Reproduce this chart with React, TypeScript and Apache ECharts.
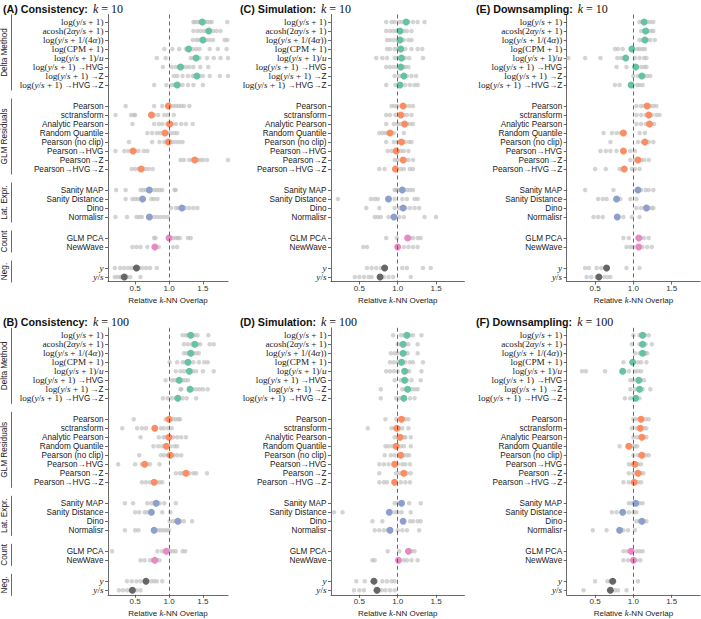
import React, { useEffect, useRef } from 'react';
import * as echarts from 'echarts';

// ---------------- data ----------------
const GROUPS = ['Delta Method', 'GLM Residuals', 'Lat. Expr.', 'Count', 'Neg.'];
const GROUP_SIZES = [8, 8, 4, 2, 2];
const GROUP_COLORS = ['#66c2a5', '#fc8d62', '#8da0cb', '#e78ac3', '#666666'];
const ROW_LABELS = [
  'log(y/s+1)', 'acosh(2αy/s+1)', 'log(y/s+1/(4α))', 'log(CPM+1)', 'log(y/s+1)/u',
  'log(y/s+1) →HVG', 'log(y/s+1) →Z', 'log(y/s+1) →HVG→Z',
  'Pearson', 'sctransform', 'Analytic Pearson', 'Random Quantile', 'Pearson (no clip)',
  'Pearson→HVG', 'Pearson→Z', 'Pearson→HVG→Z',
  'Sanity MAP', 'Sanity Distance', 'Dino', 'Normalisr',
  'GLM PCA', 'NewWave',
  'y', 'y/s',
];
const X_TICKS = [0.5, 1.0, 1.5];

const A_MEAN = [1.49, 1.585, 1.5, 1.29, 1.4, 1.17, 1.41, 1.12, 0.99, 0.74, 1.01, 0.94, 0.99, 0.47, 1.38, 0.59, 0.71, 0.61, 1.19, 0.71, 1.0, 0.79, 0.52, 0.34];
const A_PTS = [
  [1.36, 1.38, 1.42, 1.45, 1.5, 1.53, 1.56, 1.6, 1.63, 1.86],
  [1.36, 1.42, 1.47, 1.52, 1.57, 1.6, 1.65, 1.7, 1.76],
  [1.35, 1.4, 1.44, 1.48, 1.52, 1.55, 1.6, 1.65, 1.82, 1.86],
  [0.93, 1.05, 1.15, 1.25, 1.3, 1.35, 1.4, 1.45, 1.6, 1.72, 1.85],
  [0.82, 0.95, 1.32, 1.36, 1.4, 1.45, 1.56, 1.66, 1.76, 1.87],
  [0.91, 1.04, 1.1, 1.14, 1.2, 1.25, 1.3, 1.36, 1.46, 1.58],
  [1.07, 1.12, 1.2, 1.28, 1.35, 1.38, 1.45, 1.5, 1.6, 1.75, 1.87],
  [0.78, 0.96, 1.04, 1.08, 1.15, 1.2, 1.28, 1.36, 1.5],
  [0.36, 0.78, 0.9, 0.98, 1.06, 1.1, 1.14, 1.18, 1.22, 1.3],
  [0.21, 0.44, 0.48, 0.5, 0.78, 0.84, 0.93, 0.98, 1.07],
  [0.46, 0.78, 0.85, 0.9, 0.97, 1.05, 1.1, 1.18, 1.25, 1.35],
  [0.68, 0.75, 0.82, 0.87, 0.98, 1.03, 1.08, 1.12],
  [0.41, 0.75, 0.86, 0.93, 1.05, 1.1, 1.15, 1.2],
  [0.21, 0.34, 0.4, 0.45, 0.5, 0.55, 0.63, 0.68],
  [1.17, 1.22, 1.3, 1.35, 1.42, 1.46, 1.5, 1.56, 1.87],
  [0.45, 0.5, 0.55, 0.6, 0.65, 0.7, 0.76],
  [0.22, 0.36, 0.58, 0.62, 0.66, 0.78, 0.82, 0.86, 0.9, 1.08, 1.1],
  [0.36, 0.46, 0.5, 0.54, 0.74, 0.78, 0.83],
  [1.03, 1.1, 1.14, 1.2, 1.24, 1.3, 1.36, 1.42],
  [0.21, 0.38, 0.52, 0.56, 0.6, 0.78, 0.83, 0.88, 0.93, 0.98],
  [0.78, 0.8, 1.06, 1.1, 1.13, 1.16, 1.28, 1.32],
  [0.46, 0.52, 0.58, 0.68, 0.85, 1.06, 1.12],
  [0.2, 0.28, 0.34, 0.4, 0.45, 0.49, 0.56, 0.6, 0.66, 0.72, 0.82],
  [0.2, 0.24, 0.28, 0.3, 0.38, 0.43, 0.58],
];

const B_MEAN = [1.32, 1.38, 1.32, 1.28, 1.3, 1.15, 1.31, 1.13, 1.0, 0.79, 1.0, 0.96, 1.02, 0.64, 1.25, 0.78, 0.81, 0.74, 1.13, 0.78, 0.96, 0.79, 0.66, 0.46];
const B_PTS = [
  [1.2, 1.25, 1.28, 1.35, 1.38, 1.42, 1.58],
  [1.22, 1.28, 1.34, 1.42, 1.46, 1.6, 1.66],
  [1.22, 1.26, 1.3, 1.36, 1.4, 1.44],
  [1.01, 1.12, 1.2, 1.24, 1.3, 1.36, 1.44, 1.52, 1.57],
  [1.1, 1.17, 1.22, 1.27, 1.35, 1.4, 1.5, 1.66],
  [0.95, 1.04, 1.08, 1.12, 1.2, 1.24, 1.28],
  [1.17, 1.18, 1.35, 1.4, 1.45, 1.5, 1.57],
  [0.91, 0.98, 1.04, 1.1, 1.2, 1.26, 1.4],
  [0.48, 0.95, 1.06, 1.1, 1.14, 1.16],
  [0.31, 0.53, 0.6, 0.66, 0.88, 0.92, 0.98, 1.04],
  [0.58, 0.85, 0.92, 0.95, 1.06, 1.12, 1.18, 1.25],
  [0.77, 0.84, 0.9, 1.02, 1.08, 1.12],
  [0.56, 0.88, 0.93, 0.98, 1.07, 1.12, 1.18],
  [0.25, 0.5, 0.6, 0.63, 0.68, 0.72, 0.86],
  [1.1, 1.16, 1.2, 1.3, 1.36, 1.4, 1.56],
  [0.6, 0.66, 0.72, 0.82, 0.86, 0.9],
  [0.35, 0.47, 0.68, 0.74, 0.8, 0.86, 0.93, 1.1],
  [0.5, 0.56, 0.64, 0.68, 0.9, 1.02],
  [1.01, 1.06, 1.1, 1.17, 1.22, 1.34],
  [0.35, 0.5, 0.55, 0.84, 0.88, 0.92, 0.96, 1.0],
  [0.16, 0.83, 0.9, 1.02, 1.06, 1.1, 1.2, 1.24],
  [0.58, 0.64, 0.72, 0.76, 0.82, 0.86],
  [0.38, 0.45, 0.52, 0.58, 0.74, 0.78, 0.82, 0.9],
  [0.26, 0.32, 0.38, 0.43, 0.52, 0.58],
];

const C_MEAN = [1.11, 1.03, 1.03, 1.04, 1.05, 1.04, 1.08, 1.03, 1.07, 1.04, 1.09, 0.9, 1.05, 0.98, 1.07, 0.97, 1.06, 0.88, 1.07, 0.95, 1.13, 1.0, 0.83, 0.77];
const C_PTS = [
  [0.85, 0.92, 0.96, 1.02, 1.06, 1.14, 1.2, 1.26, 1.35],
  [0.85, 0.9, 0.94, 0.98, 1.08, 1.12, 1.18],
  [0.86, 0.9, 0.95, 1.0, 1.08, 1.14, 1.18],
  [0.86, 0.9, 0.96, 1.0, 1.1, 1.18, 1.26, 1.32],
  [0.72, 0.8, 0.86, 0.96, 1.0, 1.1, 1.15, 1.33],
  [0.85, 0.9, 0.95, 1.0, 1.08, 1.1, 1.14],
  [0.96, 1.02, 1.12, 1.18, 1.24],
  [0.85, 0.97, 1.1, 1.16, 1.22, 1.26],
  [0.92, 0.96, 1.0, 1.1, 1.15, 1.2],
  [0.85, 0.9, 0.97, 1.08, 1.12, 1.18],
  [0.85, 0.95, 1.0, 1.04, 1.12, 1.16, 1.2],
  [0.76, 0.8, 0.84, 0.87, 0.95, 1.08],
  [0.85, 0.95, 1.0, 1.1, 1.15, 1.18],
  [0.87, 0.92, 1.0, 1.04, 1.08, 1.14],
  [0.96, 1.0, 1.1, 1.14, 1.2],
  [0.76, 0.83, 1.04, 1.08, 1.16, 1.2],
  [0.96, 0.98, 1.0, 1.12, 1.16, 1.2],
  [0.22, 0.65, 0.7, 0.74, 0.96, 1.06, 1.12, 1.22, 1.26],
  [0.59, 0.76, 0.96, 1.02, 1.1, 1.16, 1.22, 1.28],
  [0.7, 0.74, 0.78, 0.88, 0.94, 1.02, 1.08, 1.35, 1.5],
  [0.85, 0.99, 1.16, 1.2, 1.26, 1.3],
  [0.55, 0.6, 1.08, 1.14, 1.2, 1.26],
  [0.6, 0.66, 0.72, 0.78, 1.06, 1.12, 1.33, 1.43],
  [0.44, 0.5, 0.56, 0.62, 0.66, 0.82, 0.88, 0.94, 1.17],
];

const D_MEAN = [1.12, 1.07, 1.07, 1.05, 1.09, 1.09, 1.13, 1.08, 1.05, 0.99, 1.03, 0.98, 1.04, 0.96, 1.08, 0.96, 1.05, 0.89, 1.07, 0.9, 1.14, 1.01, 0.69, 0.73];
const D_PTS = [
  [0.94, 1.04, 1.08, 1.16, 1.2, 1.31],
  [1.0, 1.04, 1.1, 1.14, 1.26],
  [0.91, 0.96, 1.0, 1.1, 1.13, 1.26],
  [0.9, 0.95, 1.0, 1.1, 1.16, 1.2, 1.33],
  [0.85, 0.9, 0.95, 1.0, 1.12, 1.15, 1.31],
  [0.96, 1.04, 1.12, 1.18, 1.3],
  [0.78, 1.06, 1.1, 1.18, 1.22, 1.26],
  [0.78, 0.98, 1.02, 1.16, 1.22],
  [0.84, 0.98, 1.02, 1.1, 1.14],
  [0.61, 0.92, 0.96, 1.02, 1.06, 1.14],
  [0.96, 1.0, 1.08, 1.1, 1.17],
  [0.84, 0.88, 0.93, 1.04, 1.08, 1.17],
  [0.83, 0.91, 0.96, 1.08, 1.12, 1.15],
  [0.76, 0.82, 0.88, 1.0, 1.06, 1.1, 1.16],
  [0.76, 0.98, 1.03, 1.12, 1.17],
  [0.76, 0.82, 0.86, 1.04, 1.1, 1.16],
  [0.96, 1.0, 1.04, 1.15, 1.3],
  [0.17, 0.28, 0.96, 1.0, 1.05, 1.17],
  [0.67, 0.8, 1.16, 1.2, 1.26, 1.3],
  [0.7, 0.76, 0.82, 0.87, 1.0, 1.06, 1.12, 1.28],
  [0.87, 1.02, 1.18, 1.22],
  [0.67, 0.7, 1.08, 1.12, 1.18, 1.26],
  [0.46, 0.57, 0.8, 0.86, 0.92, 0.96],
  [0.43, 0.5, 0.56, 0.79, 0.84, 0.9, 0.96],
];

const E_MEAN = [1.14, 1.16, 1.15, 0.98, 0.9, 1.03, 1.11, 0.97, 1.18, 1.2, 1.21, 0.87, 1.15, 0.87, 1.06, 0.88, 1.06, 0.78, 1.17, 0.79, 1.07, 1.07, 0.65, 0.55];
const E_PTS = [
  [1.08, 1.12, 1.18, 1.22, 1.26],
  [1.1, 1.14, 1.2, 1.24, 1.26],
  [1.08, 1.12, 1.18, 1.22, 1.28],
  [0.76, 0.8, 0.86, 1.05, 1.08, 1.12, 1.15],
  [0.15, 0.37, 0.57, 0.79, 0.84, 0.88, 1.02, 1.08, 1.14, 1.17],
  [0.78, 0.91, 1.1, 1.14, 1.17],
  [1.0, 1.06, 1.14, 1.18, 1.22],
  [0.76, 0.82, 1.05, 1.08, 1.12],
  [1.04, 1.1, 1.14, 1.22, 1.26, 1.3],
  [1.04, 1.1, 1.16, 1.24, 1.3, 1.34],
  [1.04, 1.1, 1.16, 1.24, 1.27],
  [0.61, 0.72, 0.78, 0.83, 1.08, 1.15],
  [0.7, 1.06, 1.12, 1.2, 1.26],
  [0.57, 0.64, 0.7, 0.78, 0.96, 1.02],
  [0.96, 1.02, 1.1, 1.14, 1.2],
  [0.5, 0.64, 0.82, 0.86, 0.98, 1.02, 1.08],
  [0.37, 0.74, 1.04, 1.1, 1.16, 1.2, 1.26],
  [0.54, 0.6, 0.65, 0.83, 0.96, 1.04],
  [1.04, 1.1, 1.2, 1.24, 1.26],
  [0.48, 0.54, 0.6, 0.87, 0.98, 1.08],
  [0.87, 0.94, 1.1, 1.14, 1.2],
  [0.91, 0.96, 1.0, 1.12, 1.18, 1.24],
  [0.37, 0.42, 0.52, 0.58, 0.91, 1.08],
  [0.39, 0.45, 0.52, 0.62, 0.66, 0.7],
];

const F_MEAN = [1.12, 1.12, 1.12, 0.99, 0.86, 1.07, 1.08, 1.03, 1.1, 1.09, 1.11, 0.94, 1.11, 1.02, 1.06, 1.01, 1.03, 0.86, 1.11, 0.82, 0.97, 1.0, 0.73, 0.7];
const F_PTS = [
  [1.0, 1.08, 1.15, 1.2],
  [0.98, 1.08, 1.16, 1.24],
  [1.02, 1.08, 1.16, 1.18],
  [0.87, 1.06, 1.1, 1.17],
  [0.33, 0.38, 0.63, 0.94, 1.02, 1.06, 1.1],
  [0.96, 1.0, 1.1, 1.14],
  [0.96, 1.02, 1.12, 1.22],
  [0.89, 0.96, 1.02, 1.08],
  [1.0, 1.04, 1.16, 1.2],
  [0.98, 1.04, 1.14, 1.17],
  [1.0, 1.05, 1.14, 1.17],
  [0.82, 0.98, 1.02, 1.05],
  [1.0, 1.06, 1.16, 1.2],
  [0.94, 0.98, 1.06, 1.1],
  [0.94, 1.0, 1.1, 1.13],
  [0.87, 0.94, 1.06, 1.1],
  [0.94, 0.98, 1.08, 1.12],
  [0.72, 0.78, 0.94, 1.0, 1.04],
  [1.04, 1.08, 1.14, 1.17],
  [0.47, 0.65, 0.87, 0.93, 1.02],
  [0.87, 0.92, 1.04, 1.08, 1.12],
  [0.87, 0.93, 1.04, 1.09],
  [0.5, 0.66, 0.7, 1.06],
  [0.35, 0.76, 0.8, 0.91],
];

const PANELS = [
  { id: 'A', name: 'Consistency', k: '10', mean: A_MEAN, pts: A_PTS, col: 0, row: 0 },
  { id: 'B', name: 'Consistency', k: '100', mean: B_MEAN, pts: B_PTS, col: 0, row: 1 },
  { id: 'C', name: 'Simulation', k: '10', mean: C_MEAN, pts: C_PTS, col: 1, row: 0 },
  { id: 'D', name: 'Simulation', k: '100', mean: D_MEAN, pts: D_PTS, col: 1, row: 1 },
  { id: 'E', name: 'Downsampling', k: '10', mean: E_MEAN, pts: E_PTS, col: 2, row: 0 },
  { id: 'F', name: 'Downsampling', k: '100', mean: F_MEAN, pts: F_PTS, col: 2, row: 1 },
];

// ---------------- layout ----------------
const SANS = '"Liberation Sans", Arial, Helvetica, sans-serif';
const SERIF = '"Liberation Serif", "DejaVu Serif", serif';
const SLOT = 3;
const PAD_TOP = 2;
const STEP = 3;
const GAP = 7;
const PAD_BOTTOM = 1;

const COLS = [
  { left: 108, width: 120, min: 0.1, max: 1.87, titleX: 3 },
  { left: 331, width: 133.4, min: 0.13, max: 1.87, titleX: 240 },
  { left: 566.7, width: 133.4, min: 0.13, max: 1.87, titleX: 476 },
];
const ROWS_Y = [
  { top: 14.5, titleY: 0 },
  { top: 327.8, titleY: 313.3 },
];

const LOG = '{r|log(}{i|y}{r|/}{i|s}{r| + 1)}';
const RICH_LABELS: Record<string, string> = {
  'log(y/s+1)': LOG,
  'acosh(2αy/s+1)': '{r|acosh(2}{i|αy}{r|/}{i|s}{r| + 1)}',
  'log(y/s+1/(4α))': '{r|log(}{i|y}{r|/}{i|s}{r| + 1/(4}{i|α}{r|))}',
  'log(CPM+1)': '{r|log(CPM + 1)}',
  'log(y/s+1)/u': '{r|log(}{i|y}{r|/}{i|s}{r| + 1)/}{i|u}',
  'log(y/s+1) →HVG': LOG + ' →HVG',
  'log(y/s+1) →Z': LOG + ' →Z',
  'log(y/s+1) →HVG→Z': LOG + ' →HVG→Z',
  'y': '{i|y}',
  'y/s': '{i|y}{r|/}{i|s}',
};

function buildSlots() {
  const slots: number[] = [];
  let s = PAD_TOP;
  GROUP_SIZES.forEach((n, g) => {
    if (g > 0) s += GAP - STEP;
    for (let j = 0; j < n; j++) {
      slots.push(s);
      s += STEP;
    }
  });
  const total = slots[slots.length - 1] + 1 + PAD_BOTTOM;
  const cats: string[] = [];
  for (let i = 0; i < total; i++) cats.push('_' + i);
  slots.forEach((sl, r) => (cats[sl] = ROW_LABELS[r]));
  return { slots, cats, total };
}

export default function App() {
  const ref = useRef<HTMLDivElement>(null);
  useEffect(() => {
    document.body.style.margin = '0';
    if (!ref.current) return;
    const chart = echarts.init(ref.current, undefined, { renderer: 'svg' });
    const { slots, cats, total } = buildSlots();
    const gridH = total * SLOT;
    const isReal = (_i: number, v: string) => !String(v).startsWith('_');

    const grid: any[] = [];
    const xAxis: any[] = [];
    const yAxis: any[] = [];
    const series: any[] = [];
    const title: any[] = [];
    const graphic: any[] = [];

    PANELS.forEach((p, pi) => {
      const c = COLS[p.col];
      const r = ROWS_Y[p.row];
      grid.push({ left: c.left, top: r.top, width: c.width, height: gridH, containLabel: false });
      xAxis.push({
        type: 'value', gridIndex: pi, min: c.min, max: c.max,
        name: 'Relative {i|k}-NN Overlap', nameLocation: 'middle', nameGap: 14,
        nameTextStyle: {
          fontFamily: SANS, fontSize: 8, color: '#222',
          rich: { i: { fontFamily: SERIF, fontStyle: 'italic', fontSize: 8.8, color: '#222' } },
        },
        axisLine: { show: true, onZero: false, lineStyle: { color: '#444', width: 0.8 } },
        axisTick: { show: true, customValues: X_TICKS, length: 3, lineStyle: { color: '#444', width: 0.8 } },
        axisLabel: {
          customValues: X_TICKS, formatter: (v: number) => v.toFixed(1),
          fontFamily: SANS, fontSize: 8, color: '#333', margin: 3,
        },
        splitLine: { show: false },
      });
      yAxis.push({
        type: 'category', gridIndex: pi, data: cats, inverse: true, boundaryGap: true,
        axisLine: { show: true, lineStyle: { color: '#444', width: 0.8 } },
        axisTick: { show: true, alignWithLabel: true, interval: isReal, length: 3, lineStyle: { color: '#444', width: 0.8 } },
        axisLabel: {
          interval: isReal,
          formatter: (v: string) => (v.startsWith('_') ? '' : RICH_LABELS[v] || v),
          fontFamily: SANS, fontSize: 8.2, color: '#1a1a1a', margin: 4.5,
          rich: {
            r: { fontFamily: SERIF, fontSize: 9.2, color: '#1a1a1a' },
            i: { fontFamily: SERIF, fontStyle: 'italic', fontSize: 9.2, color: '#1a1a1a' },
          },
        },
        splitLine: { show: false },
      });

      const grey: number[][] = [];
      p.pts.forEach((arr, ri) => arr.forEach((v) => grey.push([v, slots[ri]])));
      series.push({
        type: 'scatter', xAxisIndex: pi, yAxisIndex: pi, data: grey, symbolSize: 4.5,
        itemStyle: { color: '#bdbdbd', opacity: 0.65 }, z: 2, silent: true,
        markLine: {
          silent: true, symbol: 'none', label: { show: false },
          lineStyle: { type: [4, 3], color: '#444', width: 0.8 },
          data: [{ xAxis: 1 }],
        },
      });
      let ri = 0;
      GROUP_SIZES.forEach((n, g) => {
        const d: number[][] = [];
        for (let j = 0; j < n; j++, ri++) d.push([p.mean[ri], slots[ri]]);
        series.push({
          type: 'scatter', xAxisIndex: pi, yAxisIndex: pi, data: d, symbolSize: 7,
          itemStyle: { color: GROUP_COLORS[g], opacity: 1 }, z: 3, silent: true,
        });
      });

      title.push({
        text: `{b|(${p.id}) ${p.name}:} {k|k}{m| = ${p.k}}`,
        left: c.titleX, top: r.titleY, padding: 0,
        textStyle: {
          fontWeight: 'normal',
          rich: {
            b: { fontFamily: SANS, fontWeight: 'bold', fontSize: 10.7, color: '#111' },
            k: { fontFamily: SERIF, fontStyle: 'italic', fontWeight: 'normal', fontSize: 12, color: '#111' },
            m: { fontFamily: SERIF, fontWeight: 'normal', fontSize: 12, color: '#111' },
          },
        },
      });

      if (p.col === 0) {
        let idx = 0;
        GROUP_SIZES.forEach((n, g) => {
          const y1 = r.top + (slots[idx] + 0.5) * SLOT - 7.5;
          const y2 = r.top + (slots[idx + n - 1] + 0.5) * SLOT + 5.5;
          idx += n;
          graphic.push({
            type: 'line', silent: true,
            shape: { x1: 11.5, y1, x2: 11.5, y2 },
            style: { stroke: '#444', lineWidth: 0.8 },
          });
          graphic.push({
            type: 'text', silent: true, x: 4.5, y: (y1 + y2) / 2, rotation: Math.PI / 2,
            style: {
              text: GROUPS[g], fontFamily: SANS, fontSize: 8.2, fill: '#222',
              align: 'center', verticalAlign: 'middle',
            },
          });
        });
      }
    });

    chart.setOption({ animation: false, backgroundColor: '#fff', grid, xAxis, yAxis, series, title, graphic });
    return () => chart.dispose();
  }, []);
  return <div ref={ref} style={{ width: 701, height: 619 }} />;
}
